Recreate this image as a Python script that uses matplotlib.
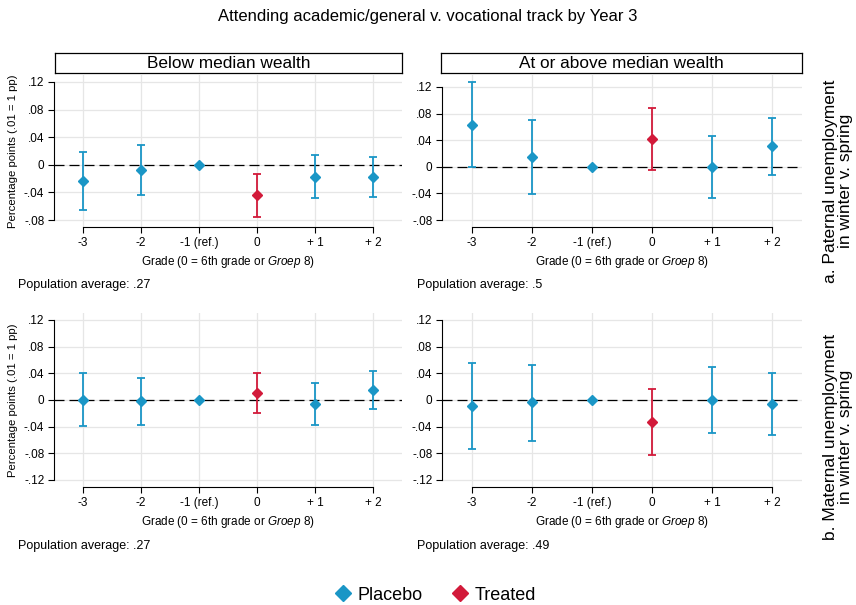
import matplotlib
matplotlib.use('Agg')
import matplotlib.pyplot as plt
import numpy as np
from matplotlib.lines import Line2D

plt.rcParams['font.family'] = ['Liberation Sans', 'DejaVu Sans']
plt.rcParams['mathtext.fontset'] = 'custom'
plt.rcParams['mathtext.rm'] = 'Liberation Sans'
plt.rcParams['mathtext.it'] = 'Liberation Sans:italic'

# data
grades = ['-3', '-2', '-1 (ref.)', '0', '+ 1', '+ 2']
treated = [False, False, False, True, False, False]

pat_below_est = [-0.023, -0.007, 0.0, -0.044, -0.017, -0.017]
pat_below_lo = [-0.065, -0.043, np.nan, -0.075, -0.048, -0.046]
pat_below_hi = [0.018, 0.029, np.nan, -0.013, 0.014, 0.012]

pat_above_est = [0.063, 0.014, 0.0, 0.042, -0.001, 0.031]
pat_above_lo = [-0.001, -0.041, np.nan, -0.005, -0.047, -0.012]
pat_above_hi = [0.128, 0.070, np.nan, 0.089, 0.046, 0.074]

mat_below_est = [0.000, -0.002, 0.0, 0.011, -0.006, 0.015]
mat_below_lo = [-0.039, -0.037, np.nan, -0.020, -0.038, -0.014]
mat_below_hi = [0.040, 0.033, np.nan, 0.041, 0.025, 0.043]

mat_above_est = [-0.009, -0.003, 0.0, -0.033, 0.000, -0.006]
mat_above_lo = [-0.073, -0.061, np.nan, -0.083, -0.049, -0.052]
mat_above_hi = [0.055, 0.053, np.nan, 0.016, 0.049, 0.040]

yticks_top = [0.12, 0.08, 0.04, 0, -0.04, -0.08]
yticks_bot = [0.12, 0.08, 0.04, 0, -0.04, -0.08, -0.12]

pop_avg = ['.27', '.5', '.27', '.49']
col_titles = ['Below median wealth', 'At or above median wealth']
row_titles = ['a. Paternal unemployment\nin winter v. spring',
              'b. Maternal unemployment\nin winter v. spring']

BLUE = '#1a96c6'
RED = '#d21a3a'

W, H = 856, 605
fig = plt.figure(figsize=(W / 100, H / 100), dpi=100)


def fmt(v):
    if v == 0:
        return '0'
    s = ('%.2f' % v).replace('0.', '.')
    return s


def panel(rect, est, lo, hi, yticks, ylim, ylabel):
    l, t, r, b = rect
    ax = fig.add_axes([l / W, 1 - b / H, (r - l) / W, (b - t) / H])
    x = np.arange(len(grades))
    ax.set_xlim(-0.5, len(grades) - 0.5)
    ax.set_ylim(*ylim)
    ax.axhline(0, color='black', lw=0.9, dashes=(8, 4), zorder=2)
    for i in x:
        c = RED if treated[i] else BLUE
        if not np.isnan(lo[i]):
            ax.errorbar([i], [est[i]], yerr=[[est[i] - lo[i]], [hi[i] - est[i]]],
                        fmt='none', ecolor=c, elinewidth=1.3, capsize=2.6,
                        capthick=1.3, zorder=3)
        ax.plot([i], [est[i]], marker='D', color=c, ms=5.5, ls='none', zorder=4)
    ax.set_xticks(x)
    ax.set_xticklabels(grades, fontsize=8.5)
    ax.set_yticks(yticks)
    ax.set_yticklabels([fmt(v) for v in yticks], fontsize=8.5)
    ax.grid(True, color='#e6e6e6', lw=0.9, zorder=0)
    ax.set_axisbelow(True)
    for s in ['top', 'right']:
        ax.spines[s].set_visible(False)
    ax.spines['left'].set_bounds(min(yticks), max(yticks))
    ax.spines['bottom'].set_bounds(0, len(grades) - 1)
    for s in ['left', 'bottom']:
        ax.spines[s].set_linewidth(0.8)
    ax.tick_params(length=4, width=0.8, pad=3)
    ax.set_xlabel(r'Grade (0 = 6th grade or $\it{Groep\ 8}$)', fontsize=8.5, labelpad=4)
    if ylabel:
        ax.set_ylabel('Percentage points (.01 = 1 pp)', fontsize=8.2, labelpad=4)
    return ax


# pixel boxes (left, top, right, bottom)
panel((54, 75, 402, 227), pat_below_est, pat_below_lo, pat_below_hi,
      yticks_top, (-0.090, 0.130), True)
panel((442, 75, 802, 227), pat_above_est, pat_above_lo, pat_above_hi,
      yticks_top, (-0.0905, 0.138), False)
panel((54, 313, 402, 487), mat_below_est, mat_below_lo, mat_below_hi,
      yticks_bot, (-0.1305, 0.1305), True)
panel((442, 313, 802, 487), mat_above_est, mat_above_lo, mat_above_hi,
      yticks_bot, (-0.1305, 0.1305), False)

# column header strips
for (l, r), txt in zip([(55, 402), (441, 802)], col_titles):
    sa = fig.add_axes([l / W, 1 - 73 / H, (r - l) / W, 20 / H])
    sa.set_xticks([])
    sa.set_yticks([])
    for s in sa.spines.values():
        s.set_linewidth(0.9)
    sa.text(0.5, 0.5, txt, ha='center', va='center', fontsize=12.4)

# population averages
for (px, py), txt in zip([(18, 285), (417, 285), (18, 546), (417, 546)], pop_avg):
    fig.text(px / W, 1 - py / H, 'Population average: ' + txt,
             ha='left', va='center', fontsize=9)

# row labels on the right
for py, txt in zip([181, 437], row_titles):
    fig.text(838 / W, 1 - py / H, txt, rotation=90, ha='center', va='center',
             fontsize=12.5, linespacing=0.95, multialignment='center')

fig.text(0.5, 1 - 17 / H, 'Attending academic/general v. vocational track by Year 3',
         ha='center', va='center', fontsize=12)

handles = [Line2D([], [], marker='D', color=BLUE, ls='none', ms=8.5),
           Line2D([], [], marker='D', color=RED, ls='none', ms=8.5)]
fig.legend(handles, ['Placebo', 'Treated'], loc='center', ncol=2,
           bbox_to_anchor=(0.507, 1 - 595 / H), frameon=False, fontsize=13,
           handletextpad=0.2, columnspacing=1.5, handlelength=1.2)

fig.savefig('out.png', dpi=100)
